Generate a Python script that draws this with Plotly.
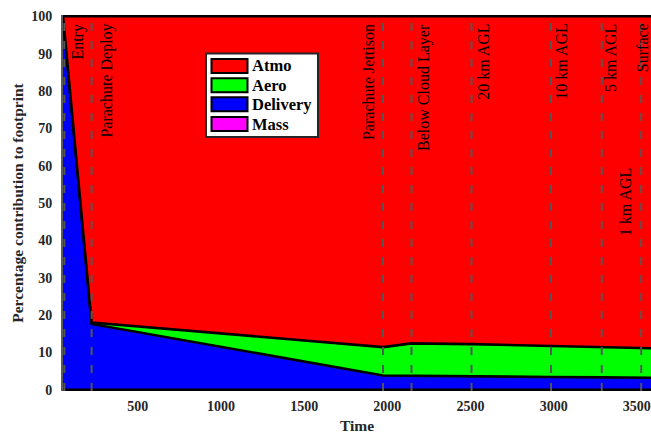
import plotly.graph_objects as go

# ---- data ----
time = [50, 222, 1974, 2145, 2506, 2984, 3289, 3526, 3585]
delivery = [100, 17.6, 3.8, 3.7, 3.6, 3.4, 3.3, 3.2, 3.2]
aero = [0, 0.4, 7.6, 8.7, 8.6, 8.4, 8.2, 8.0, 7.9]
mass = [0, 0, 0, 0, 0, 0, 0, 0, 0]
atmo = [100 - d - a - m for d, a, m in zip(delivery, aero, mass)]

event_times = [58, 222, 1974, 2145, 2506, 2984, 3289, 3526]
event_labels = ["Entry", "Parachute Deploy", "Parachute Jettison", "Below Cloud Layer",
                "20 km AGL", "10 km AGL", "5 km AGL", "Surface", "1 km AGL"]
label_x = [140, 314, 1886, 2219, 2576, 3050, 3341, 3531, 3431]
label_top = [98.3, 98.3, 98.3, 98.3, 98.3, 98.3, 98.3, 98.3, 59.7]

series_names = ["Atmo", "Aero", "Delivery", "Mass"]
series_colors = ["#FF0000", "#00FF00", "#0000FF", "#FF00FF"]

SERIF = "Liberation Serif"

fig = go.Figure()
stack = [("Mass", mass, "#FF00FF"), ("Delivery", delivery, "#0000FF"),
         ("Aero", aero, "#00FF00"), ("Atmo", atmo, "#FF0000")]
for name, vals, col in stack:
    fig.add_trace(go.Scatter(x=time, y=vals, name=name, stackgroup="one",
                             mode="lines", line=dict(color="black", width=2.6),
                             fillcolor=col, showlegend=False))

# dashed event lines
for t in event_times:
    fig.add_shape(type="line", xref="x", yref="paper", x0=t, x1=t, y0=0, y1=1,
                  line=dict(color="rgb(85,85,85)", width=2, dash="8px,10px"), layer="above")

# event labels
for lbl, lx, ly in zip(event_labels, label_x, label_top):
    fig.add_annotation(x=lx, y=ly, xref="x", yref="y", text=lbl, showarrow=False,
                       textangle=-90, xanchor="center", yanchor="top",
                       font=dict(family=SERIF, size=16, color="black"), borderpad=0)

# manual legend
W, H = 651, 440
ml, mr, mt, mb = 63, 0, 15, 49
pw, ph = W - ml - mr, H - mt - mb
def px(xp):
    return (xp - ml) / pw
def py(yp):
    return 1 - (yp - mt) / ph

fig.add_shape(type="rect", xref="paper", yref="paper", x0=px(206), x1=px(318), y0=py(137), y1=py(53.5),
              fillcolor="white", line=dict(color="#262626", width=2), layer="above")
row_top = [59, 78.3, 97.3, 117]
for name, col, rt in zip(series_names, series_colors, row_top):
    fig.add_shape(type="rect", xref="paper", yref="paper", x0=px(211.5), x1=px(247.5),
                  y0=py(rt + 14), y1=py(rt), fillcolor=col,
                  line=dict(color="black", width=2), layer="above")
    fig.add_annotation(x=px(249.5), y=py(rt + 7), xref="paper", yref="paper", text="<b>%s</b>" % name,
                       showarrow=False, xanchor="left", yanchor="middle",
                       font=dict(family=SERIF, size=16.5, color="black"))

fig.update_layout(
    width=W, height=H,
    margin=dict(l=ml, r=mr, t=mt, b=mb),
    plot_bgcolor="white", paper_bgcolor="white",
    showlegend=False,
    font=dict(family=SERIF, color="#262626"),
)
fig.update_xaxes(range=[50, 3585], tickvals=[500, 1000, 1500, 2000, 2500, 3000, 3500],
                 showgrid=False, zeroline=False, showline=False, ticks="",
                 ticklabelstandoff=5, ticklabeloverflow="allow",
                 tickfont=dict(family=SERIF, size=14, color="#262626", weight="bold"),
                 title=dict(text="<b>Time</b>", font=dict(family=SERIF, size=15.5, color="#262626"), standoff=7))
fig.update_yaxes(range=[-0.35, 100.35], tickvals=list(range(0, 101, 10)),
                 showgrid=False, zeroline=False, showline=True, linecolor="rgb(90,90,90)", linewidth=2,
                 ticks="", ticklabelstandoff=6,
                 tickfont=dict(family=SERIF, size=14, color="#262626", weight="bold"),
                 title=dict(text="<b>Percentage contribution to footprint</b>",
                            font=dict(family=SERIF, size=15.5, color="#262626"), standoff=4))

fig.write_html("out.html")
